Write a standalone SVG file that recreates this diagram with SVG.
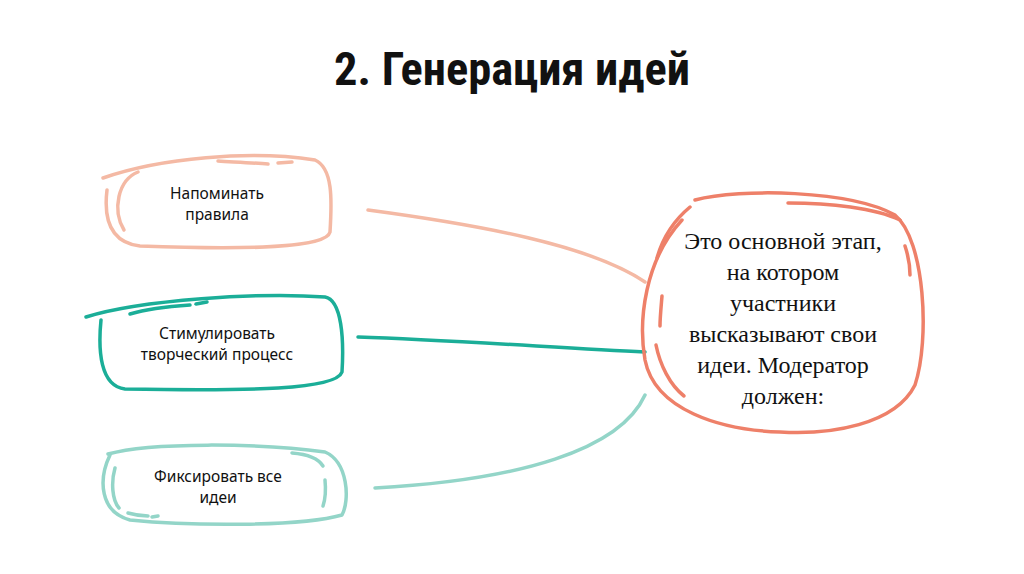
<svg xmlns="http://www.w3.org/2000/svg" width="1024" height="574" viewBox="0 0 1024 574">
<style>
.s{fill:none;stroke-linecap:round;stroke-linejoin:round}
.c1{stroke:#F4B9A4;stroke-width:3.5}
.c2{stroke:#1BAE98;stroke-width:3.5}
.c3{stroke:#93D5C8;stroke-width:3.5}
.c4{stroke:#EE8069;stroke-width:3.5}
.lbl{font-family:"Noto Sans","Open Sans",sans-serif;font-size:15.5px;fill:#111;text-anchor:middle}
.big{font-family:"Liberation Serif","Times New Roman",serif;font-size:24px;fill:#111;text-anchor:middle}
</style>
<rect width="1024" height="574" fill="#fff"/>
<text x="512" y="85" font-family="'Liberation Sans Narrow','Roboto Condensed','Liberation Sans',sans-serif" font-weight="bold" font-size="46" text-anchor="middle" textLength="356" lengthAdjust="spacingAndGlyphs" fill="#111">2. Генерация идей</text>
<g id="connectors">
<path class="s c1" d="M368 210 C480 225 590 245 645 282"/>
<path class="s c2" d="M358 337 C450 340 560 348 645 352"/>
<path class="s c3" d="M375 488 C520 480 620 450 645 395"/>
</g>
<g id="node1">
<path class="s c1" d="M103 178 C160 158 250 150 315 160 C333 168 332 200 330 232 C326 248 250 250 140 246 C108 242 104 215 107 190"/>
<path class="s c1" d="M138 172 C118 180 112 210 124 230"/>
<path class="s c1" d="M218 161 C235 162 255 163 268 164"/>
<path class="s c1" d="M278 163 L292 162"/>
<text class="lbl" x="217" y="199">Напоминать</text>
<text class="lbl" x="217" y="220">правила</text>
</g>
<g id="node2">
<path class="s c2" d="M86 317 C140 300 260 292 325 297 C342 300 344 340 342 372 C336 390 250 391 125 389 C100 386 98 350 101 320"/>
<path class="s c2" d="M130 314 C150 308 175 306 190 305"/>
<path class="s c2" d="M196 304 L207 302"/>
<text class="lbl" x="217" y="339">Стимулировать</text>
<text class="lbl" x="217" y="360">творческий процесс</text>
</g>
<g id="node3">
<path class="s c3" d="M108 454 C150 442 260 443 325 452 C348 462 350 500 342 515 C300 527 190 526 130 520 C100 512 98 480 110 455"/>
<path class="s c3" d="M115 468 C111 482 112 500 119 508"/>
<path class="s c3" d="M128 513 C135 515 142 516 148 516"/>
<path class="s c3" d="M152 517 L158 516"/>
<path class="s c3" d="M292 453 C305 454 318 458 323 466"/>
<path class="s c3" d="M325 480 C326 490 325 500 323 506"/>
<text class="lbl" x="218" y="482">Фиксировать все</text>
<text class="lbl" x="218" y="503">идеи</text>
</g>
<g id="center">
<path class="s c4" d="M695 200 C740 188 850 190 895 215 C925 240 930 340 915 385 C895 425 830 435 780 432 C720 430 655 410 645 360 C638 320 645 260 682 220"/>
<path class="s c4" d="M690 207 C672 222 662 240 657 258"/>
<path class="s c4" d="M788 203 C830 203 875 208 900 220"/>
<path class="s c4" d="M905 246 C908 255 910 265 910 275"/>
<path class="s c4" d="M662 296 C661 308 660 318 660 326"/>
<path class="s c4" d="M656 345 C660 365 670 385 684 396"/>
<text class="big" x="783" y="249">Это основной этап,</text>
<text class="big" x="783" y="280">на котором</text>
<text class="big" x="783" y="311">участники</text>
<text class="big" x="783" y="342">высказывают свои</text>
<text class="big" x="783" y="373">идеи. Модератор</text>
<text class="big" x="783" y="404">должен:</text>
</g>
</svg>
